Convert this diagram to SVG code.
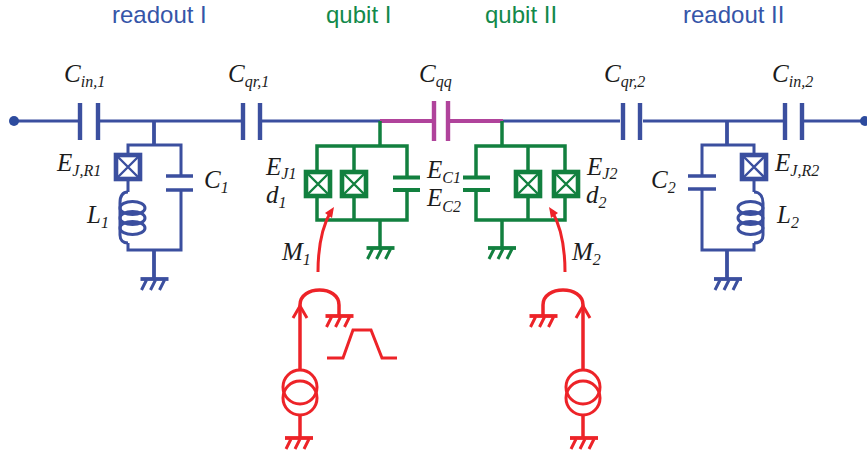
<svg xmlns="http://www.w3.org/2000/svg" width="867" height="457" viewBox="0 0 867 457">
<style>
.w{fill:none;stroke-linejoin:miter;stroke-linecap:butt}
.b{stroke:#3b4f9f}.g{stroke:#12803f}.m{stroke:#b0439b}.r{stroke:#ed2328}
.t2{stroke-width:3}.t3{stroke-width:3.5}.t4{stroke-width:4.4}
.h{font-family:"Liberation Sans",Arial,sans-serif;font-size:24px}
.l{font-family:"Liberation Serif","Times New Roman",serif;font-style:italic;font-size:25px;fill:#1c1c1c}
.s{font-size:16px}
</style>
<defs>
<g id="jj"><rect x="-12" y="-12" width="24" height="24" fill="#fff" stroke-width="4.6"/><path d="M-12-12L12 12M-12 12L12-12" stroke-width="2.4"/></g>
<path id="gnd" d="M-14 0H14" stroke-width="3.8"/>
<path id="tk" d="M-8 1L-13 11M1 1L-4 11M10 1L5 11" stroke-width="3"/>
</defs>

<g id="title-labels" class="h">
<text x="112" y="23" fill="#3555a8">readout I</text>
<text x="326" y="23" fill="#12894a">qubit I</text>
<text x="485" y="23" fill="#12894a">qubit II</text>
<text x="683" y="23" fill="#3555a8">readout II</text>
</g>

<g id="connectors">
<path class="w b t2" d="M14 121H78M100 121H241M262 121H380M503 121H620M643 121H783M804 121H867"/>
<path class="w m" stroke-width="4" d="M380 121H432M450 121H503"/>
<path class="w b t2" d="M128 153V145H181V176M181 190V250H128V243M128 181V192M702 176V145H754V153M702 190V250H754V243M754 181V192"/>
<path class="w b" stroke-width="3.8" d="M154 121V145M154 250V279M727 121V145M727 250V279"/>
<path class="w g t3" d="M380 121V146M317 170V146H407V177M354 146V170M317 198V220H407V190M354 198V220M380 220V248M502 121V146M476 177V146H565V170M528 146V170M565 198V220H476V190M528 198V220M502 220V248"/>
<path class="w r t2" d="M318 272C318 245 323 225 331 211"/>
<path class="w r t2" d="M565 272C565 245 560 225 552 211"/>
<path class="w r t3" d="M300 370V305C300 285 339 285 339 305V316M543 316V305C543 285 583 285 583 305V370M300 415V438M583 415V438"/>
</g>

<g id="cin1" class="w b t4"><path d="M80 103V140M98 103V140"/></g>
<g id="cqr1" class="w b t4"><path d="M243 103V140M260 103V140"/></g>
<g id="cqq" class="w m t4"><path d="M434 101V141M448 101V141"/></g>
<g id="cqr2" class="w b t4"><path d="M623 103V140M640 103V140"/></g>
<g id="cin2" class="w b t4"><path d="M785 103V140M802 103V140"/></g>
<circle id="port-left" cx="14" cy="121" r="5" fill="#2d4b9e"/>
<circle id="port-right" cx="865" cy="121" r="5" fill="#2d4b9e"/>

<g id="c1" class="w b t3"><path d="M166 176H193M166 190H193"/></g>
<g id="c2" class="w b t3"><path d="M688 176H716M688 189H716"/></g>
<g id="jr1" class="b"><use href="#jj" x="128" y="167"/></g>
<g id="jr2" class="b"><use href="#jj" x="754" y="167"/></g>
<g id="l1" class="w b t2">
<path d="M128 192C122 192 120 197 120 203V235C120 240 123 243 128 243"/>
<ellipse cx="132.500" cy="208" rx="12.500" ry="6.500"/>
<ellipse cx="132.500" cy="218" rx="12.500" ry="6.500"/>
<ellipse cx="132.500" cy="228" rx="12.500" ry="6.500"/>
</g>
<g id="l2" class="w b t2">
<path d="M754 192C760 192 763 197 763 203V235C763 240 760 243 754 243"/>
<ellipse cx="750.500" cy="208" rx="12.500" ry="6.500"/>
<ellipse cx="750.500" cy="218" rx="12.500" ry="6.500"/>
<ellipse cx="750.500" cy="228" rx="12.500" ry="6.500"/>
</g>
<g id="gnd1" class="w b"><use href="#gnd" x="154.500" y="279"/><use href="#tk" x="154.500" y="279"/></g>
<g id="gnd2" class="w b"><use href="#gnd" x="728" y="279"/><use href="#tk" x="728" y="279"/></g>

<g id="jq1a" class="g"><use href="#jj" x="318" y="184"/></g>
<g id="jq1b" class="g"><use href="#jj" x="354" y="184"/></g>
<g id="jq2a" class="g"><use href="#jj" x="528" y="184"/></g>
<g id="jq2b" class="g"><use href="#jj" x="566" y="184"/></g>
<g id="cq1" class="w g" stroke-width="4"><path d="M393 177.500H420M393 190H420"/></g>
<g id="cq2" class="w g" stroke-width="4"><path d="M463 177.500H490M463 190H490"/></g>
<g id="gndq1" class="w g"><use href="#gnd" x="380.500" y="248"/><use href="#tk" x="380.500" y="248"/></g>
<g id="gndq2" class="w g"><use href="#gnd" x="502" y="248"/><use href="#tk" x="502" y="248"/></g>

<polygon id="m1-arrow" points="334,207 325,213 332,218" fill="#ed2328"/>
<polygon id="m2-arrow" points="549,207 558,213 551,218" fill="#ed2328"/>
<g id="src1" class="w r t2">
<circle cx="300" cy="387" r="17"/><circle cx="300" cy="398" r="17"/>
<path d="M293 318L300 306L307 318"/>
<path d="M327 358H343L353 330H371L382 358H397"/>
</g>
<g id="src2" class="w r t2">
<circle cx="583" cy="387" r="17"/><circle cx="583" cy="398" r="17"/>
<path d="M576 318L583 306L590 318"/>
</g>
<g id="gnd-s1a" class="w r"><use href="#gnd" x="339.500" y="316"/><use href="#tk" x="339.500" y="316"/></g>
<g id="gnd-s1b" class="w r"><use href="#gnd" x="299" y="438"/><use href="#tk" x="299" y="438"/></g>
<g id="gnd-s2a" class="w r"><use href="#gnd" x="543.500" y="316"/><use href="#tk" x="543.500" y="316"/></g>
<g id="gnd-s2b" class="w r"><use href="#gnd" x="584" y="438"/><use href="#tk" x="584" y="438"/></g>

<g id="labels" class="l">
<text x="64" y="82">C<tspan class="s" dy="5">in,1</tspan></text>
<text x="228" y="82">C<tspan class="s" dy="5">qr,1</tspan></text>
<text x="419" y="82">C<tspan class="s" dy="5">qq</tspan></text>
<text x="604" y="82">C<tspan class="s" dy="5">qr,2</tspan></text>
<text x="772" y="82">C<tspan class="s" dy="5">in,2</tspan></text>
<text x="57" y="171">E<tspan class="s" dy="5">J,R1</tspan></text>
<text x="204" y="188">C<tspan class="s" dy="5">1</tspan></text>
<text x="87" y="223">L<tspan class="s" dy="5">1</tspan></text>
<text x="266" y="175">E<tspan class="s" dy="4">J1</tspan></text>
<text x="266" y="203">d<tspan class="s" dy="5">1</tspan></text>
<text x="282" y="260">M<tspan class="s" dy="5">1</tspan></text>
<text x="427" y="178">E<tspan class="s" dy="5">C1</tspan></text>
<text x="427" y="206">E<tspan class="s" dy="6">C2</tspan></text>
<text x="587" y="175">E<tspan class="s" dy="4">J2</tspan></text>
<text x="586" y="203">d<tspan class="s" dy="5">2</tspan></text>
<text x="572" y="260">M<tspan class="s" dy="5">2</tspan></text>
<text x="651" y="188">C<tspan class="s" dy="5">2</tspan></text>
<text x="775" y="171">E<tspan class="s" dy="5">J,R2</tspan></text>
<text x="777" y="223">L<tspan class="s" dy="5">2</tspan></text>
</g>
</svg>
